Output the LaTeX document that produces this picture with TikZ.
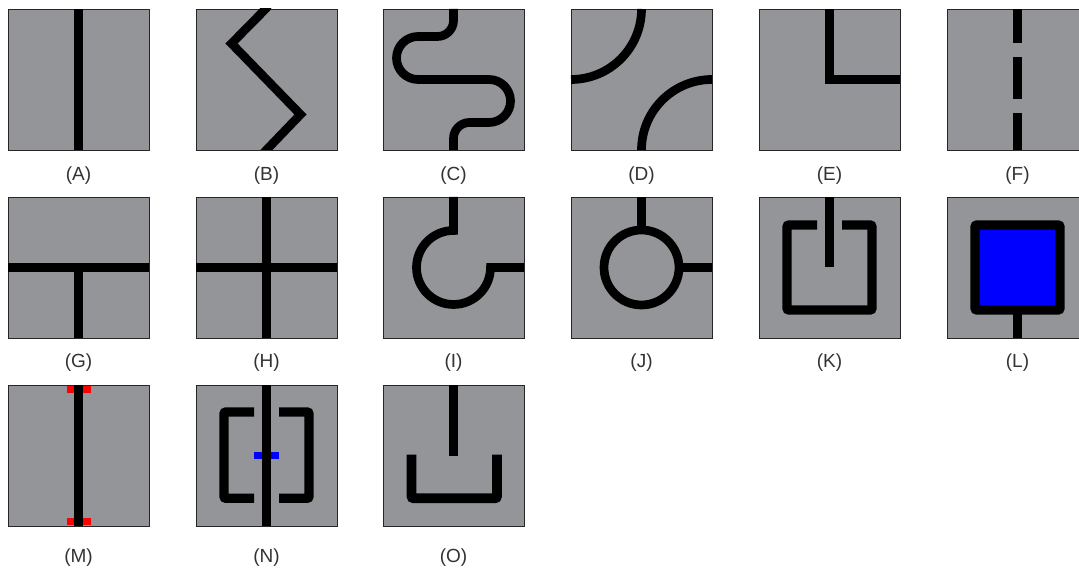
\documentclass[tikz,border=0pt]{standalone}
\usepackage{fontspec}
\setmainfont{Liberation Sans}
\definecolor{tilegray}{RGB}{148,149,153}
\definecolor{pureblue}{RGB}{0,0,255}
\definecolor{purered}{RGB}{255,0,0}
\begin{document}
\begin{tikzpicture}[x=1pt,y=1pt,
  tile/.style={draw=black!85,line width=0.8pt,fill=tilegray,minimum size=141pt,inner sep=0pt,outer sep=0pt,anchor=south west},
  wire/.style={line width=8.7pt,draw=black},
  thick wire/.style={line width=9.3pt,draw=black,rounded corners=2pt},
  lab/.style={font=\fontsize{19}{19}\selectfont,text=black!80,inner sep=0pt}]
\useasboundingbox (0,0) rectangle (1079,572);
\fill[white] (0,0) rectangle (1079,572);

% ---------- Row 1 ----------
\node[tile] (tA) at (8,422) {};
\begin{scope}[shift={(8,422)}]
  \draw[wire] (70.5,0) -- (70.5,141);
\end{scope}
\node[lab] (lA) at (78.5,396.5) {(A)};

\node[tile] (tB) at (196,422) {};
\begin{scope}[shift={(196,422)}]
  \clip (0,0) rectangle (141,141);
  \draw[wire] (72.5,144) -- (35.5,106.5) -- (104.5,35.5) -- (67.5,-3);
\end{scope}
\node[lab] (lB) at (266.5,396.5) {(B)};

\node[tile] (tC) at (383,422) {};
\begin{scope}[shift={(383,422)}]
  \draw[wire] (70.5,141) -- (70.5,129.5) arc[start angle=0,end angle=-90,radius=16]
    -- (35,113.5) arc[start angle=90,end angle=270,radius=21.5]
    -- (106,70.5) arc[start angle=90,end angle=-90,radius=21.5]
    -- (86.5,27.5) arc[start angle=90,end angle=180,radius=16] -- (70.5,0);
\end{scope}
\node[lab] (lC) at (453.5,396.5) {(C)};

\node[tile] (tD) at (571,422) {};
\begin{scope}[shift={(571,422)}]
  \draw[wire] (70.5,141) arc[start angle=0,end angle=-90,radius=70.5];
  \draw[wire] (70.5,0) arc[start angle=180,end angle=90,radius=70.5];
\end{scope}
\node[lab] (lD) at (641.5,396.5) {(D)};

\node[tile] (tE) at (759,422) {};
\begin{scope}[shift={(759,422)}]
  \draw[wire] (70.5,141) -- (70.5,70.5) -- (141,70.5);
\end{scope}
\node[lab] (lE) at (829.5,396.5) {(E)};

\node[tile] (tF) at (947,422) {};
\begin{scope}[shift={(947,422)}]
  \draw[wire,dash pattern=on 42pt off 14pt,dash phase=8pt] (70.5,141) -- (70.5,0);
\end{scope}
\node[lab] (lF) at (1017.5,396.5) {(F)};

% ---------- Row 2 ----------
\node[tile] (tG) at (8,234) {};
\begin{scope}[shift={(8,234)}]
  \draw[wire] (0,70.5) -- (141,70.5);
  \draw[wire] (70.5,70.5) -- (70.5,0);
\end{scope}
\node[lab] (lG) at (78.5,209.5) {(G)};

\node[tile] (tH) at (196,234) {};
\begin{scope}[shift={(196,234)}]
  \draw[wire] (0,70.5) -- (141,70.5);
  \draw[wire] (70.5,141) -- (70.5,0);
\end{scope}
\node[lab] (lH) at (266.5,209.5) {(H)};

\node[tile] (tI) at (383,234) {};
\begin{scope}[shift={(383,234)}]
  \draw[wire] (70.5,141) -- (70.5,107.5) arc[start angle=90,end angle=360,radius=37] -- (141,70.5);
\end{scope}
\node[lab] (lI) at (453.5,209.5) {(I)};

\node[tile] (tJ) at (571,234) {};
\begin{scope}[shift={(571,234)}]
  \draw[wire] (70.5,70.5) circle[radius=37.5];
  \draw[wire] (70.5,141) -- (70.5,108);
  \draw[wire] (108,70.5) -- (141,70.5);
\end{scope}
\node[lab] (lJ) at (641.5,209.5) {(J)};

\node[tile] (tK) at (759,234) {};
\begin{scope}[shift={(759,234)}]
  \draw[thick wire] (58,113) -- (28,113) -- (28,28) -- (113,28) -- (113,113) -- (83,113);
  \draw[wire] (70.5,141) -- (70.5,71);
\end{scope}
\node[lab] (lK) at (829.5,209.5) {(K)};

\node[tile] (tL) at (947,234) {};
\begin{scope}[shift={(947,234)}]
  \draw[wire] (70.5,28) -- (70.5,0);
  \draw[thick wire,fill=pureblue] (28,28) rectangle (113,113);
\end{scope}
\node[lab] (lL) at (1017.5,209.5) {(L)};

% ---------- Row 3 ----------
\node[tile] (tM) at (8,46) {};
\begin{scope}[shift={(8,46)}]
  \draw[wire] (70.5,0) -- (70.5,141);
  \fill[purered] (58.5,133) rectangle (66.15,140);
  \fill[purered] (74.85,133) rectangle (82.5,140);
  \fill[purered] (58.5,1) rectangle (66.15,8);
  \fill[purered] (74.85,1) rectangle (82.5,8);
\end{scope}
\node[lab] (lM) at (78.5,14) {(M)};

\node[tile] (tN) at (196,46) {};
\begin{scope}[shift={(196,46)}]
  \draw[wire] (70.5,0) -- (70.5,141);
  \draw[thick wire] (58,114) -- (28,114) -- (28,27.7) -- (58,27.7);
  \draw[thick wire] (83,114) -- (113,114) -- (113,27.7) -- (83,27.7);
  \fill[pureblue] (58,67) rectangle (66.15,74);
  \fill[pureblue] (74.85,67) rectangle (83,74);
\end{scope}
\node[lab] (lN) at (266.5,14) {(N)};

\node[tile] (tO) at (383,46) {};
\begin{scope}[shift={(383,46)}]
  \draw[wire] (70.5,141) -- (70.5,70);
  \draw[thick wire,line width=9.6pt] (28.5,71.3) -- (28.5,27.7) -- (114,27.7) -- (114,71.3);
\end{scope}
\node[lab] (lO) at (453.5,14) {(O)};
\end{tikzpicture}
\end{document}
